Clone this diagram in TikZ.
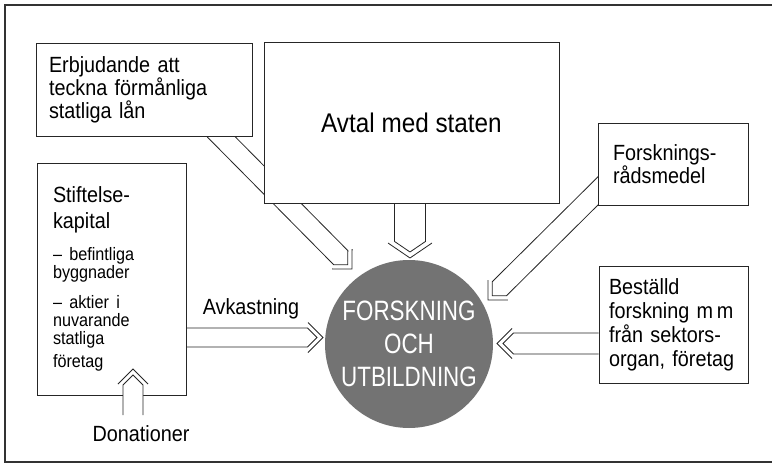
\documentclass[tikz,border=0pt]{standalone}
\usepackage{fontspec}
\setmainfont{Liberation Sans}[FakeStretch=0.9]
\newfontfamily\circfont{Liberation Sans}[FakeStretch=0.8]
\usepackage{tikz}
\usetikzlibrary{
    calc,
    positioning
}
\pgfdeclarelayer{bg}
\pgfsetlayers{bg,main}
\tikzset{srcbox/.style={rectangle, draw=black!85, line width=0.8pt, fill=white, inner ysep=0pt, align=left, font=\fontsize{22}{23}\selectfont}}
\tikzset{arrline/.style={draw=black!85, line width=0.8pt, line join=miter}}
\tikzset{lbl/.style={inner sep=1pt, font=\fontsize{22}{23}\selectfont}}
% start, tip, half width, back, side
\newcommand{\hollowarr}[5]{
    \pgfmathsetmacro{\shaftcut}{6+#3*#4/#5}
    \path ($(#2)!\shaftcut pt!(#1)$) coordinate (ha) ($(#2)!#4pt!(#1)$) coordinate (hb) ($(#2)!6pt!(#1)$) coordinate (hc)
        ($(#1)!#3pt!90:(#2)$) coordinate (fl) ($(#1)!#3pt!-90:(#2)$) coordinate (fr);
    \path ($(ha)!#3pt!90:(#2)$) coordinate (hl) ($(ha)!#3pt!-90:(#2)$) coordinate (hr);
    \fill[white] (fl) -- (hl) -- (hc) -- (hr) -- (fr) -- cycle;
    \draw[arrline] (fl) -- (hl) -- (hc) -- (hr) -- (fr);
    \draw[arrline] ($(hb)!#5pt!90:(#2)$) -- (#2) -- ($(hb)!#5pt!-90:(#2)$);
}

\begin{document}
\begin{tikzpicture}[x=1pt, y=-1pt]
    \useasboundingbox (0,0) rectangle (772,466);
    \draw[black!80, line width=1.2pt] (772,5) -- (5,5) -- (5,462) -- (772,462);

    \node[srcbox, inner xsep=13pt, text width=190pt, minimum height=93pt] (erb) at (144,89.5) {Erbjudande att\\teckna förmånliga\\statliga lån};
    \node[srcbox, inner xsep=16pt, text width=117pt, minimum height=232pt] (stift) at (111.5,279) {Stiftelse-\\[3pt]kapital\\[14pt]\fontsize{18}{18}\selectfont --~befintliga\\byggnader\\[12pt]--~aktier i\\nuvarande\\statliga\\företag};
    \node[srcbox, inner xsep=15pt, text width=120pt, minimum height=82pt] (forsk) at (673,164) {Forsknings-\\rådsmedel};
    \node[srcbox, inner xsep=10pt, text width=129pt, minimum height=117pt, font=\fontsize{22}{24}\selectfont] (best) at (673.5,324.5) {Beställd\\forskning m\,m\\från sektors-\\organ, företag};
    \node[srcbox, minimum width=295pt, minimum height=161pt, align=center, font=\fontsize{27}{30}\selectfont] (avtal) at (411.5,122.5) {Avtal med staten};
    \node[circle, fill=black!55, minimum size=168pt, inner sep=0pt, text=white, align=center, font=\circfont\fontsize{28}{33}\selectfont] (fou) at (409,344) {FORSKNING\\OCH\\UTBILDNING};
    \node[lbl] (don) at (141,434) {Donationer};
    \node[lbl] (avk) at (251,309) {Avkastning};

    \coordinate (erbfoot) at ($(erb.south)+(57,-20)$);
    \coordinate (avtfoot) at ($(avtal.south)+(-1.5,-13)$);
    \coordinate (forskfoot) at ($(forsk.south west)+(15,-29)$);
    \coordinate (erbtip) at (352,269);
    \coordinate (avttip) at (410,258);
    \coordinate (forsktip) at (488,300);
    \coordinate (avktip) at (323,337.5);
    \coordinate (besttip) at (497,343.5);
    \coordinate (avkfoot) at (stift.east |- avktip);
    \coordinate (bestfoot) at (best.west |- besttip);
    \coordinate (dontip) at (133,369);
    \coordinate (donfoot) at (133,415);

    \begin{pgfonlayer}{bg}
    \hollowarr{erbfoot}{erbtip}{10}{14}{14}
    \hollowarr{avtfoot}{avttip}{15.5}{15}{22}
    \hollowarr{forskfoot}{forsktip}{10}{14}{14}
    \hollowarr{avkfoot}{avktip}{9.5}{15}{15}
    \hollowarr{bestfoot}{besttip}{10.5}{15}{15}
    \end{pgfonlayer}
    \hollowarr{donfoot}{dontip}{10}{15}{15}
\end{tikzpicture}
\end{document}
